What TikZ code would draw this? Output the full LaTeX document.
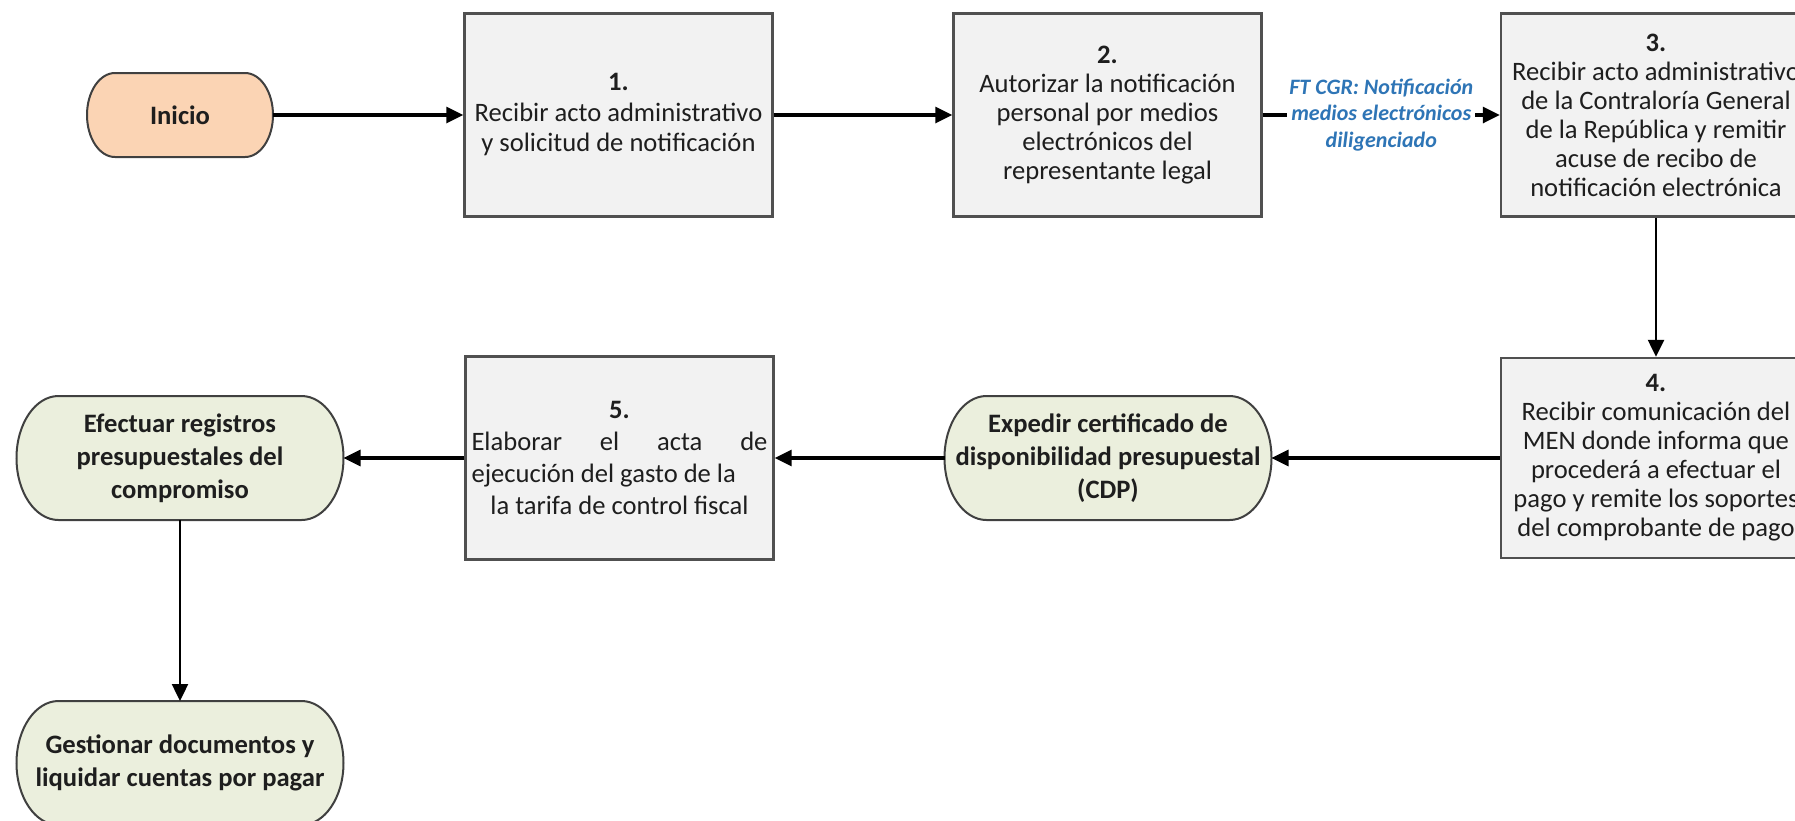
\documentclass[tikz,border=0pt]{standalone}
\usepackage{fontspec}
\setmainfont{Carlito}
\usetikzlibrary{arrows.meta,backgrounds}
\definecolor{boxfill}{HTML}{F2F2F2}
\definecolor{boxline}{HTML}{505050}
\definecolor{termline}{HTML}{404040}
\definecolor{peach}{HTML}{FBD4B4}
\definecolor{palegreen}{HTML}{EBEFDD}
\definecolor{lblue}{HTML}{2E75B6}
\definecolor{txt}{HTML}{1E1E1E}
\newcommand{\termoutline}[4]{%
  \begin{scope}[on background layer]
  \draw[termedge, fill=#4] ([xshift=#2]#1.north west) -- ([xshift=-#2]#1.north east)
    arc[start angle=90, end angle=-90, x radius=#2, y radius=#3]
    -- ([xshift=#2]#1.south west)
    arc[start angle=270, end angle=90, x radius=#2, y radius=#3] -- cycle;
  \end{scope}}
\begin{document}
\begin{tikzpicture}[x=0.5pt,y=-0.5pt,
  stepbox/.style={draw=boxline, line width=1.2pt, fill=boxfill, minimum width=154pt, minimum height=101.5pt, inner sep=0pt, align=center, text=txt, font=\fontsize{13.3}{14.5}\selectfont},
  term/.style={draw=none, inner sep=0pt, outer sep=0pt, align=center, text=txt, font=\fontsize{13.3}{16.5}\selectfont\bfseries},
  termedge/.style={draw=termline, line width=1pt},
  flow/.style={draw=black, line width=1.6pt, -{Triangle[length=8.5pt,width=8pt]}},
  vflow/.style={draw=black, line width=1.2pt, -{Triangle[length=8.5pt,width=8pt]}},
  edgelabel/.style={fill=white, inner sep=1pt, align=center, text=lblue, font=\fontsize{11}{13.2}\selectfont\bfseries\itshape}]
\useasboundingbox (0,0) rectangle (1795,820);
\begin{scope}[on background layer]
\fill[white] (0,0) rectangle (1795,820);
\end{scope}
\clip (0,0) rectangle (1795,820);

% terminators
\node[term, minimum width=93pt, minimum height=42pt] (inicio) at (180,115) {Inicio};
\termoutline{inicio}{14pt}{21pt}{peach}
\node[term, minimum width=163.5pt, minimum height=62pt] (cdp) at (1108,458) {Expedir certificado de\\disponibilidad presupuestal\\(CDP)};
\termoutline{cdp}{21pt}{31pt}{palegreen}
\node[term, minimum width=163.5pt, minimum height=62pt] (efec) at (180,458) {Efectuar registros\\presupuestales del\\compromiso};
\termoutline{efec}{21pt}{31pt}{palegreen}
\node[term, minimum width=163.5pt, minimum height=62pt] (gest) at (180,763) {Gestionar documentos y\\liquidar cuentas por pagar};
\termoutline{gest}{21pt}{31pt}{palegreen}

% process boxes
\node[stepbox, font=\fontsize{13.3}{15.25}\selectfont] (b1) at (618.5,115) {\textbf{1.}\\Recibir acto administrativo\\y solicitud de notificación};
\node[stepbox] (b2) at (1107.5,115) {\textbf{2.}\\Autorizar la notificación\\personal por medios\\electrónicos del\\representante legal};
\node[stepbox, minimum width=155pt] (b3) at (1656,115) {\textbf{3.}\\Recibir acto administrativo\\de la Contraloría General\\de la República y remitir\\acuse de recibo de\\notificación electrónica};
\node[stepbox, minimum width=155pt, minimum height=100pt] (b4) at (1656,458) {\textbf{4.}\\Recibir comunicación del\\MEN donde informa que\\procederá a efectuar el\\pago y remite los soportes\\del comprobante de pago};
\node[stepbox, font=\fontsize{13.3}{16}\selectfont] (b5) at (619.5,458) {\textbf{5.}\\\makebox[148pt][l]{Elaborar\hfill el\hfill acta\hfill de}\\\makebox[148pt][l]{ejecución del gasto de la}\\la tarifa de control fiscal};

% connectors
\draw[flow] (inicio.east) -- (b1.west);
\draw[flow] (b1.east) -- (b2.west);
\draw[flow] (b2.east) -- node[edgelabel] (lab) {FT CGR: Notificación\\medios electrónicos\\diligenciado} (b3.west);
\draw[vflow] (b3.south) -- (b4.north);
\draw[flow] (b4.west) -- (cdp.east);
\draw[flow] (cdp.west) -- (b5.east);
\draw[flow] (b5.west) -- (efec.east);
\draw[vflow] (efec.south) -- (gest.north);
\end{tikzpicture}
\end{document}
